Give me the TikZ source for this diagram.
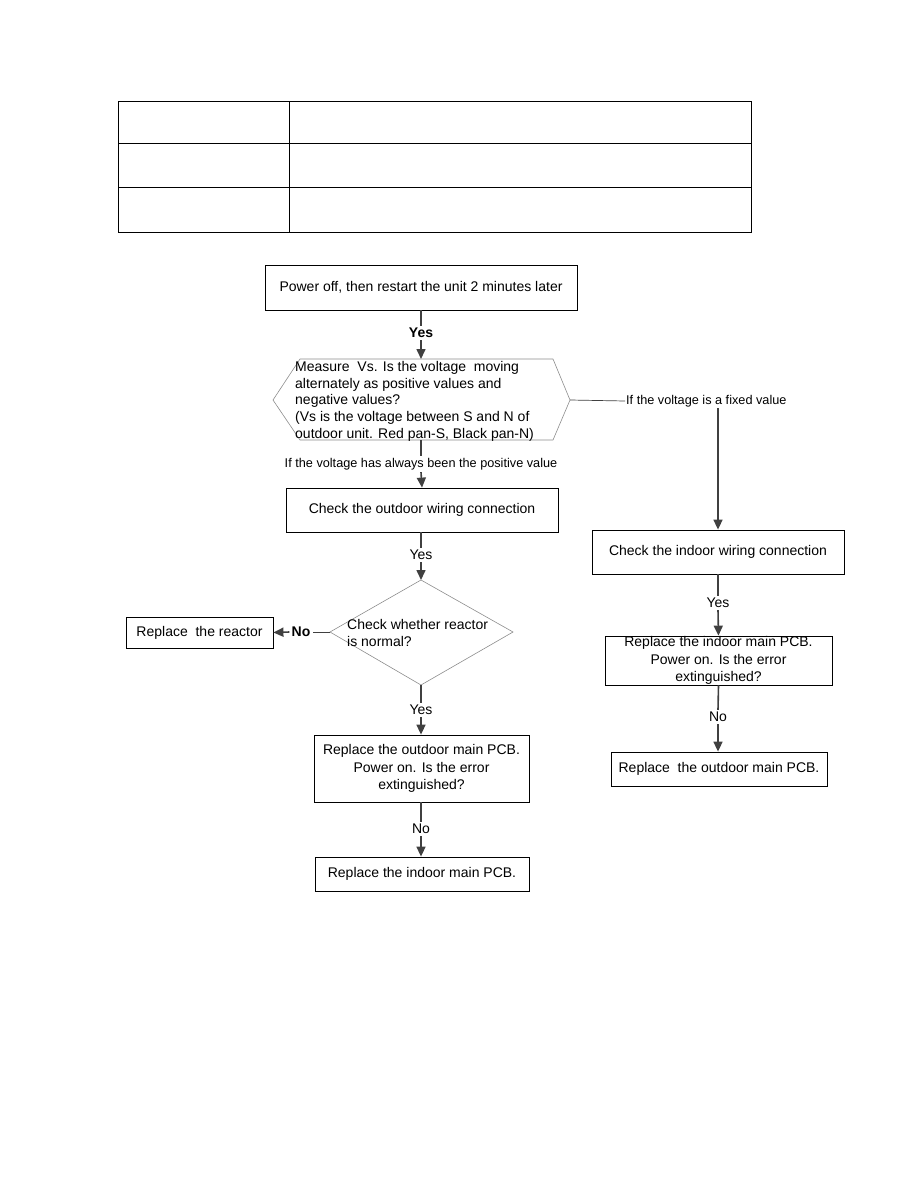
\documentclass[tikz,border=0pt]{standalone}
\usepackage{fontspec}
\setmainfont{Liberation Sans}
\usetikzlibrary{arrows.meta}
\definecolor{arrgray}{HTML}{404040}
\definecolor{shapegray}{HTML}{8C8C8C}
\begin{document}
\begin{tikzpicture}[x=1pt,y=-1pt,
  every node/.style={font=\fontsize{14}{17.5}\selectfont, inner sep=0pt, text=black},
  box/.style={draw=black, line width=0.8pt, align=center},
  lbl/.style={fill=white, inner sep=2pt},
  small/.style={font=\fontsize{12.7}{14}\selectfont},
  ln/.style={draw=arrgray, line width=1.6pt},
  arr/.style={draw=arrgray, line width=1.6pt, -{Triangle[length=10pt,width=9pt]}},
  shp/.style={draw=shapegray, line width=0.6pt}]
\useasboundingbox (0,0) rectangle (918,1188);
% table
\draw[line width=1pt] (118,102) rectangle (751,232);
\draw[line width=1pt] (118,143) -- (751,143);
\draw[line width=1pt] (118,187) -- (751,187);
\draw[line width=1pt] (289,102) -- (289,232);
% start box
\node[box, minimum width=312pt, minimum height=45pt] (b1) at (421,287.5) {Power off, then restart the unit 2 minutes later};
\node[lbl, font=\bfseries\fontsize{14}{15}\selectfont] (yes1) at (421,333) {Yes};
% hexagon
\coordinate (hL) at (273,400);
\coordinate (hTL) at (300,359);
\coordinate (hT) at (421,359);
\coordinate (hTR) at (553,359);
\coordinate (hR) at (570,400);
\coordinate (hBR) at (553,440);
\coordinate (hB) at (421,440);
\coordinate (hBL) at (300,440);
\draw[shp] (hL) -- (hTL) -- (hTR) -- (hR) -- (hBR) -- (hBL) -- cycle;
\node[anchor=north west, align=left, font=\fontsize{14}{16.7}\selectfont] (hex) at (295,361)
 {Measure\ \ Vs. Is the voltage\ \ moving\\alternately as positive values and\\negative values?\\(Vs is the voltage between S and N of\\outdoor unit. Red pan-S, Black pan-N)};
\draw[ln] (b1.south) -- (yes1.north);
\draw[arr] (yes1.south) -- (hT);
% left/down branch
\node[small, lbl] (pos) at (421,464) {If the voltage has always been the positive value};
\draw[ln] (hB) -- (pos.north);
\node[box, minimum width=272pt, minimum height=44pt] (ob) at (422,510) {Check the outdoor wiring connection};
\draw[arr] (pos.south) -- (ob.north);
\node[lbl] (yes2) at (421,555) {Yes};
\draw[ln] (ob.south -| yes2) -- (yes2.north);
% diamond
\coordinate (dT) at (421,580);
\coordinate (dL) at (330,632);
\coordinate (dR) at (513,632);
\coordinate (dB) at (421,685);
\draw[shp] (dT) -- (dR) -- (dB) -- (dL) -- cycle;
\node[anchor=west, align=left] (dia) at (347,633) {Check whether reactor\\is normal?};
\draw[arr] (yes2.south) -- (dT);
\node[lbl, font=\bfseries\fontsize{14}{15}\selectfont] (no1) at (301,632) {No};
\node[box, minimum width=147pt, minimum height=31pt] (rr) at (199.5,632.5) {Replace\ \ the reactor};
\draw[ln, line width=1pt] (dL) -- (no1.east);
\draw[arr] (no1.west) -- (rr.east);
\node[lbl] (yes3) at (421,710) {Yes};
\draw[ln] (dB) -- (yes3.north);
\node[box, minimum width=215pt, minimum height=67pt] (opcb) at (421.5,768.5) {Replace the outdoor main PCB.\\Power on. Is the error\\extinguished?};
\draw[arr] (yes3.south) -- (opcb.north -| yes3);
\node[lbl] (no2) at (421,829) {No};
\draw[ln] (opcb.south -| no2) -- (no2.north);
\node[box, minimum width=214pt, minimum height=34pt] (ipcb2) at (422,874) {Replace the indoor main PCB.};
\draw[arr] (no2.south) -- (ipcb2.north -| no2);
% right branch
\node[small, anchor=west, fill=white, inner sep=1pt] (fix) at (625,401) {If the voltage is a fixed value};
\draw[draw=arrgray, line width=0.7pt] (hR) -- (fix.west);
\node[box, minimum width=252pt, minimum height=44pt] (ib) at (718,552) {Check the indoor wiring connection};
\draw[arr] (ib.north |- fix.south) -- (ib.north);
\node[lbl] (yes4) at (718,603) {Yes};
\draw[ln] (ib.south) -- (yes4.north);
\node[box, minimum width=227pt, minimum height=49pt] (ipcb) at (718.5,660.5) {Replace the indoor main PCB.\\Power on. Is the error\\extinguished?};
\draw[arr] (yes4.south) -- (ipcb.north);
\node[lbl] (no3) at (718,717) {No};
\draw[ln] (ipcb.south) -- (no3.north);
\node[box, minimum width=216pt, minimum height=34pt] (opcb2) at (719,769) {Replace\ \ the outdoor main PCB.};
\draw[arr] (no3.south) -- (opcb2.north -| no3);
\end{tikzpicture}
\end{document}
